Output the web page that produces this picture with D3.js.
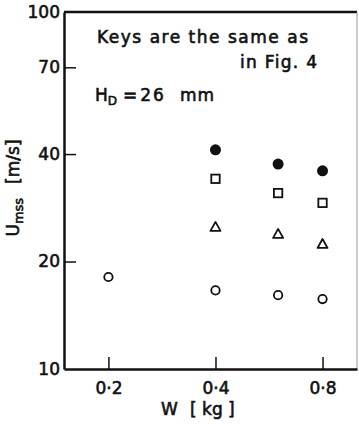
<!DOCTYPE html>
<html>
<head>
<meta charset="utf-8">
<script src="https://cdn.jsdelivr.net/npm/d3@7"></script>
<style>
  body { margin: 0; background: #fff; }
  svg text { font-family: "DejaVu Sans", sans-serif; font-weight: normal; fill: #111; stroke: #111; stroke-width: 0.6; }
</style>
</head>
<body>
<div id="chart"></div>
<script>
// values
const wFilled = [0.4, 0.6, 0.8];
const uFilled = [41.1, 37.5, 35.9];
const wSquare = [0.4, 0.6, 0.8];
const uSquare = [34.1, 31.1, 29.2];
const wTriangle = [0.4, 0.6, 0.8];
const uTriangle = [25.0, 23.9, 22.4];
const wOpen = [0.2, 0.4, 0.6, 0.8];
const uOpen = [18.1, 16.6, 16.1, 15.7];

const xTicks = [0.2, 0.4, 0.8];
const xTickLabels = ["0·2", "0·4", "0·8"];
const yTicks = [10, 20, 40, 70, 100];
const yTickLabels = ["10", "20", "40", "70", "100"];

const W = 359, H = 424;
const margin = {top: 12, right: 2, bottom: 55, left: 64};
const width = W - margin.left - margin.right,
      height = H - margin.top - margin.bottom;

const svg = d3.select("#chart").append("svg")
    .attr("width", W)
    .attr("height", H);
const g = svg.append("g")
    .attr("transform", "translate(" + margin.left + "," + margin.top + ")");

const x = d3.scaleLog().domain([0.15, 1.0]).range([0, width]);
const y = d3.scaleLog().domain([10, 100]).range([height, 0]);

// frame: heavy left/bottom/top, thin right
g.append("line").attr("x1", 0).attr("x2", width).attr("y1", 0).attr("y2", 0)
    .attr("stroke", "#111").attr("stroke-width", 2.5);
g.append("line").attr("x1", width).attr("x2", width).attr("y1", 0).attr("y2", height)
    .attr("stroke", "#999").attr("stroke-width", 1);

// y axis
const yAxis = g.append("g")
    .call(d3.axisLeft(y)
        .tickValues(yTicks)
        .tickFormat((d, i) => yTickLabels[i])
        .tickSizeInner(-12)
        .tickSizeOuter(0)
        .tickPadding(4));
yAxis.select(".domain").attr("stroke", "#111").attr("stroke-width", 2.5);
yAxis.selectAll(".tick line").attr("stroke", "#111").attr("stroke-width", 1.5)
    .attr("display", d => (d == 10 || d == 100) ? "none" : null);
yAxis.selectAll(".tick text").attr("font-size", 17).attr("font-family", null).attr("fill", null);

// x axis
const xAxis = g.append("g")
    .attr("transform", "translate(0," + height + ")")
    .call(d3.axisBottom(x)
        .tickValues(xTicks)
        .tickFormat((d, i) => xTickLabels[i])
        .tickSizeInner(-12)
        .tickSizeOuter(0)
        .tickPadding(13));
xAxis.select(".domain").attr("stroke", "#111").attr("stroke-width", 2.5);
xAxis.selectAll(".tick line").attr("stroke", "#111").attr("stroke-width", 1.5);
xAxis.selectAll(".tick text").attr("font-size", 17).attr("font-family", null).attr("fill", null);

// axis titles
svg.append("text")
    .attr("x", 161).attr("y", 415)
    .attr("font-size", 17)
    .text("W");
svg.append("text")
    .attr("x", 190).attr("y", 415)
    .attr("font-size", 17)
    .text("[ kg ]");

const yl = svg.append("text")
    .attr("transform", "translate(19,188) rotate(-90)")
    .attr("text-anchor", "middle")
    .attr("font-size", 17);
yl.append("tspan").text("U");
yl.append("tspan").attr("font-size", 13).attr("dy", 4).text("mss");
yl.append("tspan").attr("dy", -4).attr("dx", 14).text("[m/s]");

// annotations
svg.append("text").attr("x", 97).attr("y", 43).attr("font-size", 17)
    .attr("textLength", 211).attr("lengthAdjust", "spacing")
    .text("Keys are the same as");
svg.append("text").attr("x", 240).attr("y", 68).attr("font-size", 17)
    .attr("textLength", 77).attr("lengthAdjust", "spacing")
    .text("in Fig. 4");
const hd = svg.append("text").attr("x", 95).attr("y", 101).attr("font-size", 17);
hd.append("tspan").text("H");
hd.append("tspan").attr("font-size", 12).attr("dy", 4).text("D");
hd.append("tspan").attr("dy", -4).attr("dx", 6).text("=");
hd.append("tspan").attr("dx", 3).attr("letter-spacing", 2).text("26");
hd.append("tspan").attr("dx", 14).attr("letter-spacing", 1).text("mm");

// markers
const pts = (ws, us) => ws.map((w, i) => ({w: w, u: us[i]}));

g.selectAll(".filled").data(pts(wFilled, uFilled)).enter().append("circle")
    .attr("cx", d => x(d.w)).attr("cy", d => y(d.u))
    .attr("r", 5.5).attr("fill", "#111");

g.selectAll(".open").data(pts(wOpen, uOpen)).enter().append("circle")
    .attr("cx", d => x(d.w)).attr("cy", d => y(d.u))
    .attr("r", 4.2).attr("fill", "none").attr("stroke", "#111").attr("stroke-width", 1.8);

g.selectAll(".square").data(pts(wSquare, uSquare)).enter().append("rect")
    .attr("x", d => x(d.w) - 4.2).attr("y", d => y(d.u) - 4.2)
    .attr("width", 8.4).attr("height", 8.4)
    .attr("fill", "none").attr("stroke", "#111").attr("stroke-width", 1.8);

g.selectAll(".tri").data(pts(wTriangle, uTriangle)).enter().append("path")
    .attr("transform", d => "translate(" + x(d.w) + "," + y(d.u) + ")")
    .attr("d", "M0,-5 L5,4 L-5,4 Z")
    .attr("fill", "none").attr("stroke", "#111").attr("stroke-width", 1.8)
    .attr("stroke-linejoin", "round");
</script>
</body>
</html>
